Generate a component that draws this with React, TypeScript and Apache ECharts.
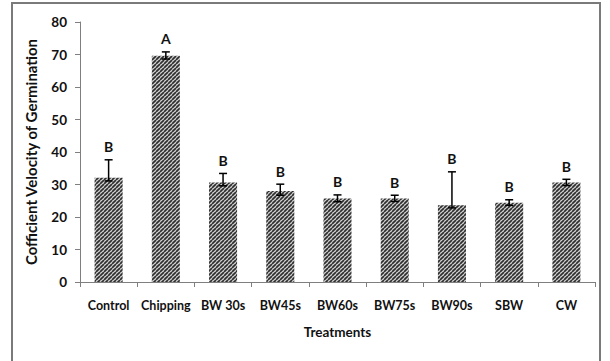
import React, { useEffect, useRef } from "react";
import * as echarts from "echarts";

const categories = ["Control", "Chipping", "BW 30s", "BW45s", "BW60s", "BW75s", "BW90s", "SBW", "CW"];
const values = [32.1, 69.6, 30.6, 28.0, 25.7, 25.7, 23.6, 24.4, 30.6];
const errUp = [5.5, 1.2, 2.8, 2.1, 1.1, 1.0, 10.3, 0.9, 1.0];
const errDown = [1.0, 1.0, 1.0, 1.3, 1.0, 0.9, 0.8, 0.8, 0.9];
const letters = ["B", "A", "B", "B", "B", "B", "B", "B", "B"];
const yTicks = [0, 10, 20, 30, 40, 50, 60, 70, 80];

const FONT = "Lato, 'Open Sans', sans-serif";

function makePattern(): HTMLCanvasElement {
  const s = 4;
  const c = document.createElement("canvas");
  c.width = s;
  c.height = s;
  const ctx = c.getContext("2d")!;
  ctx.fillStyle = "#d4d4d4";
  ctx.fillRect(0, 0, s, s);
  ctx.strokeStyle = "#2e2e2e";
  ctx.lineWidth = 1.7;
  for (let k = -1; k <= 1; k++) {
    ctx.beginPath();
    ctx.moveTo(k * s, s);
    ctx.lineTo(k * s + s, 0);
    ctx.stroke();
  }
  return c;
}

export default function App() {
  const ref = useRef<HTMLDivElement>(null);
  useEffect(() => {
    if (!ref.current) return;
    const chart = echarts.init(ref.current, undefined, { renderer: "svg" });
    const pattern = makePattern();
    const errData = categories.map((_, i) => [i, values[i], errUp[i], errDown[i]]);
    chart.setOption({
      animation: false,
      backgroundColor: "#ffffff",
      grid: { left: 80, right: 15, top: 22, bottom: 79, containLabel: false },
      graphic: [
        {
          type: "rect",
          shape: { x: 12, y: 3, width: 588, height: 380 },
          style: { fill: "none", stroke: "#7a7a7a", lineWidth: 2 },
          silent: true,
          z: -1,
        },
      ],
      xAxis: {
        type: "category",
        data: categories,
        name: "Treatments",
        nameLocation: "middle",
        nameGap: 43,
        nameTextStyle: { fontFamily: FONT, fontWeight: "bold", fontSize: 13.5, color: "#111" },
        axisLine: { lineStyle: { color: "#7f7f7f", width: 1 } },
        axisTick: { show: true, alignWithLabel: false, length: 5, lineStyle: { color: "#7f7f7f" } },
        axisLabel: { fontFamily: FONT, fontWeight: "bold", fontSize: 12.5, color: "#111", margin: 17, interval: 0 },
      },
      yAxis: {
        type: "value",
        min: 0,
        max: 80,
        interval: 10,
        name: "Cofficient Velocity of Germination",
        nameLocation: "middle",
        nameGap: 42,
        nameTextStyle: { fontFamily: FONT, fontWeight: "bold", fontSize: 15, color: "#111" },
        axisLine: { show: true, lineStyle: { color: "#7f7f7f", width: 1 } },
        axisTick: { show: true, length: 5, lineStyle: { color: "#7f7f7f" } },
        axisLabel: {
          fontFamily: FONT,
          fontWeight: "bold",
          fontSize: 13.5,
          color: "#111",
          margin: 13,
          formatter: (v: number) => (yTicks.includes(v) ? String(v) : ""),
        },
        splitLine: { show: false },
      },
      series: [
        {
          type: "bar",
          data: values,
          barWidth: "49%",
          itemStyle: { color: { image: pattern, repeat: "repeat" } },
        },
        {
          type: "custom",
          data: errData,
          z: 10,
          renderItem: (params: any, api: any) => {
            const i = api.value(0);
            const v = api.value(1);
            const up = api.value(2);
            const dn = api.value(3);
            const top = api.coord([i, v + up]);
            const bot = api.coord([i, v - dn]);
            const x = top[0];
            const cw = 4;
            return {
              type: "group",
              children: [
                { type: "line", shape: { x1: x, y1: top[1], x2: x, y2: bot[1] }, style: { stroke: "#000", lineWidth: 1.5 } },
                { type: "line", shape: { x1: x - cw, y1: top[1], x2: x + cw, y2: top[1] }, style: { stroke: "#000", lineWidth: 1.5 } },
                { type: "line", shape: { x1: x - cw, y1: bot[1], x2: x + cw, y2: bot[1] }, style: { stroke: "#000", lineWidth: 1.5 } },
                {
                  type: "text",
                  x: x,
                  y: top[1] - 13,
                  style: {
                    text: letters[params.dataIndex],
                    fontFamily: FONT,
                    fontWeight: "bold",
                    fontSize: 14,
                    fill: "#111",
                    align: "center",
                    verticalAlign: "middle",
                  },
                },
              ],
            };
          },
        },
      ],
    });
    return () => chart.dispose();
  }, []);
  return (
    <div
      ref={ref}
      style={{ position: "fixed", left: 0, top: 0, width: 610, height: 361 }}
    />
  );
}
